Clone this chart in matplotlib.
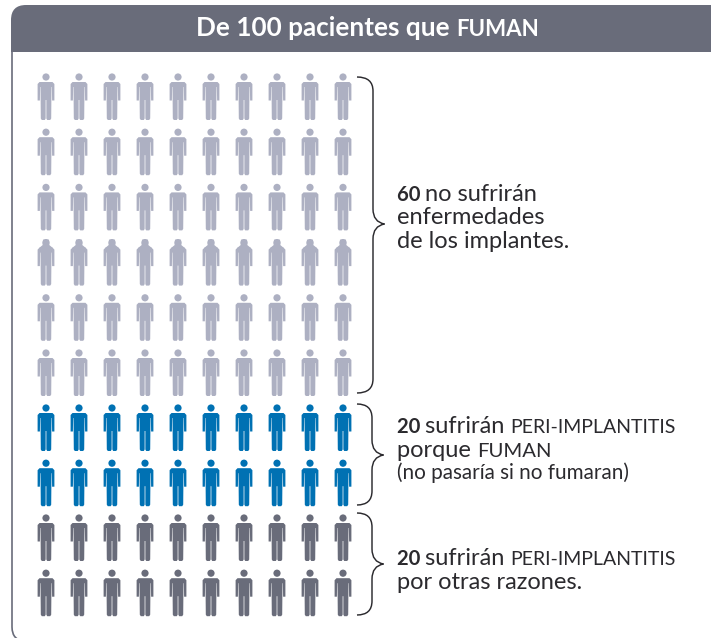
from __future__ import annotations

import matplotlib

matplotlib.use("Agg")
import matplotlib.pyplot as plt
from matplotlib.patches import FancyBboxPatch, PathPatch, Polygon
from matplotlib.path import Path
from matplotlib.transforms import Affine2D

W, H = 711, 638

TITLE = "De 100 pacientes que "
TITLE_CAPS = "FUMAN"
GROUP_COUNTS = [60, 20, 20]
GROUP_COLORS = ["#ADB0C2", "#0071B3", "#696C7A"]
PER_ROW = 10

HEADER = "#696C7A"
INK = "#2B2A2E"
LOWER = 17.0  # lowercase set larger than caps, the original face is a wide geometric one
CAPS = 14.0
DIGITS = 14.6
SMALL = 14.9

plt.rcParams["font.family"] = ["Lato", "DejaVu Sans"]


def person_path() -> Path:
    # outline in px, origin at the centre of the head
    right = [
        (0.35, 23), (0.35, 41.5), (1.2, 43), (4.2, 43), (5.2, 41.5), (5.5, 10), (5.9, 10),
        (6.1, 23.5), (8.4, 23.5), (8.4, 7), (6.5, 5),
    ]
    left = [(-x, y) for x, y in reversed(right)]
    body = right + left + [right[0]]
    codes = [Path.MOVETO] + [Path.LINETO] * (len(body) - 2) + [Path.CLOSEPOLY]
    return Path.make_compound_path(Path(body, codes), Path.circle((0, 0), 3.6))


def brace(ax: plt.Axes, top: float, bottom: float, tip: float, s: float = 372, x: float = 357) -> None:
    pts = [
        (x, top), (s, top), (s, top + 14),
        (s, tip - 15), (s, tip - 2), (s + 11.5, tip),
        (s, tip + 2), (s, tip + 15),
        (s, bottom - 14), (s, bottom), (x, bottom),
    ]
    codes = [Path.MOVETO, Path.CURVE3, Path.CURVE3, Path.LINETO, Path.CURVE3, Path.CURVE3,
             Path.CURVE3, Path.CURVE3, Path.LINETO, Path.CURVE3, Path.CURVE3]
    ax.add_patch(PathPatch(Path(pts, codes), fc="none", ec=INK, lw=1.05))


def runs(ax: plt.Axes, x: float, y: float, parts: list[tuple], color: str = INK) -> None:
    # one line made of several sizes, all on one baseline
    renderer = ax.figure.canvas.get_renderer()
    for part in parts:
        text, size, weight = part
        t = ax.text(x, y, text.replace(" ", "\u00a0"), fontsize=size, fontweight=weight, color=color, va="baseline")
        x += t.get_window_extent(renderer).width


def main() -> None:
    fig = plt.figure(figsize=(W / 100, H / 100), dpi=100)
    ax = fig.add_axes([0, 0, 1, 1])
    ax.set_xlim(0, W)
    ax.set_ylim(H, 0)
    ax.axis("off")

    # panel outline runs off the bottom and right, header band sits over it
    ax.add_patch(FancyBboxPatch((12, 10), 760, 631, boxstyle="round,pad=0,rounding_size=14",
                                fc="white", ec=HEADER, lw=1.2))
    band = FancyBboxPatch((11, 5), 770, 70, boxstyle="round,pad=0,rounding_size=15", fc=HEADER, ec="none")
    ax.add_patch(band)
    band.set_clip_path(plt.Rectangle((0, 0), W, 52, transform=ax.transData))
    runs(ax, 196, 36, [(TITLE, 18.8, "bold"), (TITLE_CAPS, 16.0, "bold")], color="white")

    person = person_path()
    starts = [77, 408, 518]
    for count, color, y0 in zip(GROUP_COUNTS, GROUP_COLORS, starts):
        for i in range(count):
            col, row = i % PER_ROW, i // PER_ROW
            tr = Affine2D().translate(46 + 33 * col, y0 + 55.2 * row) + ax.transData
            ax.add_patch(PathPatch(person, fc=color, ec="none", transform=tr))
            if count == 60 and row == 3:
                # this row has no neck gap in the original
                ax.add_patch(Polygon([(-3, -3), (3, -3), (3.4, 2.5), (7, 5.5), (-7, 5.5), (-3.4, 2.5)],
                                     fc=color, ec="none", transform=tr))

    brace(ax, 77, 393, 224, s=373)
    brace(ax, 404, 505, 455)
    brace(ax, 513, 615, 564)

    runs(ax, 397, 201, [("60 ", DIGITS, "bold"), ("no sufrirán", LOWER, "normal")])
    runs(ax, 397, 224, [("enfermedades", LOWER, "normal")])
    runs(ax, 397, 248, [("de los implantes.", LOWER, "normal")])

    runs(ax, 397, 433, [("20 ", DIGITS, "bold"), ("sufrirán ", LOWER, "normal"), ("PERI-IMPLANTITIS", CAPS, "normal")])
    runs(ax, 397, 457, [("porque ", LOWER, "normal"), ("FUMAN", CAPS + 0.6, "normal")])
    runs(ax, 397, 479, [("(no pasaría si no fumaran)", SMALL, "normal")])

    runs(ax, 397, 565, [("20 ", DIGITS, "bold"), ("sufrirán ", LOWER, "normal"), ("PERI-IMPLANTITIS", CAPS, "normal")])
    runs(ax, 397, 589, [("por otras razones.", LOWER, "normal")])

    fig.savefig("out.png", dpi=100)
    plt.close(fig)


if __name__ == "__main__":
    main()
